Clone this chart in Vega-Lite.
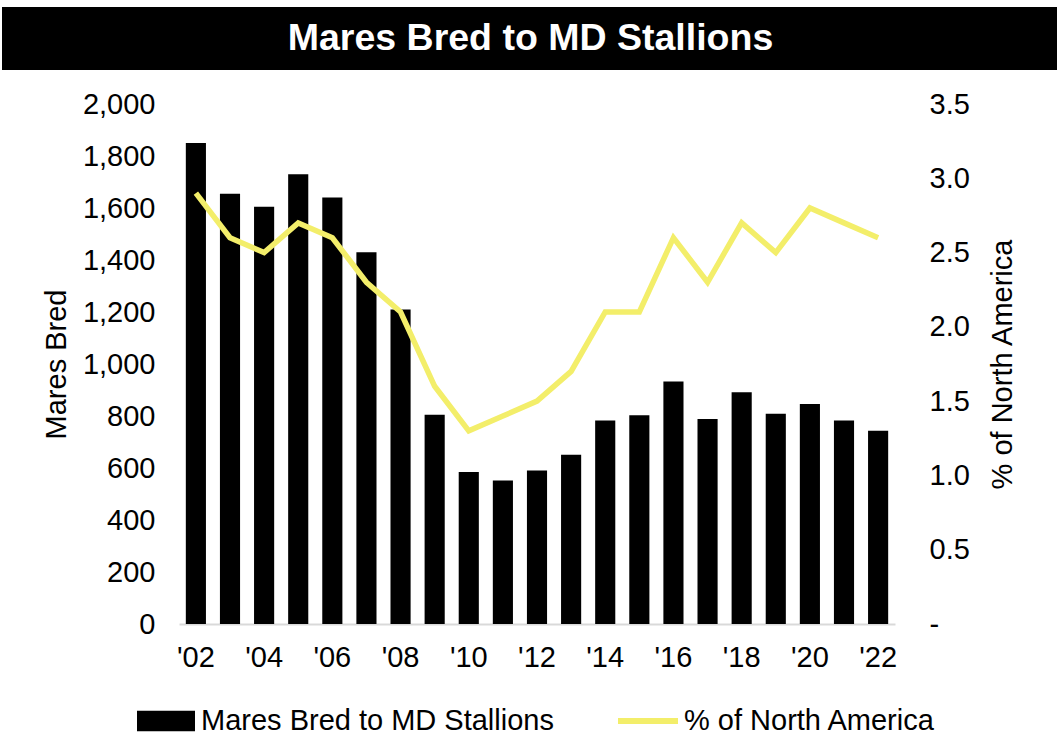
{
  "$schema": "https://vega.github.io/schema/vega-lite/v6.json",
  "padding": {"left": 2, "top": 7, "right": 0, "bottom": 0},
  "background": "white",
  "config": {"font": "Liberation Sans", "view": {"stroke": null}},
  "spacing": 20,
  "bounds": "full",
  "vconcat": [
    {
      "width": 1055,
      "height": 63,
      "view": {"fill": "black", "stroke": null},
      "data": {"values": [{"t": "Mares Bred to MD Stallions"}]},
      "mark": {"type": "text", "color": "white", "fontSize": 37.5, "fontWeight": "bold", "font": "Liberation Sans", "dx": 1},
      "encoding": {"text": {"field": "t", "type": "nominal"}}
    },
    {
      "width": 1055,
      "height": 520,
      "data": {"values": [
        {"yr": "'02", "mares": 1850, "pct": 2.9},
        {"yr": "'03", "mares": 1655, "pct": 2.6},
        {"yr": "'04", "mares": 1605, "pct": 2.5},
        {"yr": "'05", "mares": 1730, "pct": 2.7},
        {"yr": "'06", "mares": 1640, "pct": 2.6},
        {"yr": "'07", "mares": 1430, "pct": 2.3},
        {"yr": "'08", "mares": 1210, "pct": 2.1},
        {"yr": "'09", "mares": 805, "pct": 1.6},
        {"yr": "'10", "mares": 585, "pct": 1.3},
        {"yr": "'11", "mares": 552, "pct": 1.4},
        {"yr": "'12", "mares": 590, "pct": 1.5},
        {"yr": "'13", "mares": 651, "pct": 1.7},
        {"yr": "'14", "mares": 783, "pct": 2.1},
        {"yr": "'15", "mares": 803, "pct": 2.1},
        {"yr": "'16", "mares": 933, "pct": 2.6},
        {"yr": "'17", "mares": 788, "pct": 2.3},
        {"yr": "'18", "mares": 891, "pct": 2.7},
        {"yr": "'19", "mares": 809, "pct": 2.5},
        {"yr": "'20", "mares": 846, "pct": 2.8},
        {"yr": "'21", "mares": 783, "pct": 2.7},
        {"yr": "'22", "mares": 743, "pct": 2.6}
      ]},
      "layer": [
        {
          "mark": {"type": "bar"},
          "encoding": {
            "x": {
              "field": "yr", "type": "ordinal", "sort": null,
              "scale": {"range": [177, 893], "paddingInner": 0.41, "paddingOuter": 0.2},
              "axis": {
                "title": null,
                "labelAngle": 0, "ticks": false,
                "domainColor": "#d9d9d9", "domainWidth": 2,
                "labelFontSize": 29, "labelColor": "black", "labelPadding": 19,
                "values": ["'02", "'04", "'06", "'08", "'10", "'12", "'14", "'16", "'18", "'20", "'22"]
              }
            },
            "y": {
              "field": "mares", "type": "quantitative",
              "scale": {"domain": [0, 2000]},
              "axis": {
                "offset": -177,
                "title": "Mares Bred", "titleFontSize": 29, "titleFontWeight": "normal", "titleColor": "black",
                "titlePadding": 11, "labelPadding": 24, "ticks": false, "domain": false, "grid": false,
                "labelFontSize": 29, "labelColor": "black",
                "values": [0, 200, 400, 600, 800, 1000, 1200, 1400, 1600, 1800, 2000], "format": ",.0f"
              }
            },
            "fill": {
              "datum": "Mares Bred to MD Stallions", "type": "nominal",
              "scale": {"range": ["#000000"]},
              "legend": {
                "orient": "none", "legendX": 135, "legendY": 685, "title": null,
                "symbolType": "M-1,-0.35L1,-0.35L1,0.35L-1,0.35Z", "symbolSize": 3364,
                "symbolStrokeWidth": 0, "symbolOpacity": 1,
                "labelFontSize": 29, "labelColor": "black", "labelOffset": 6, "labelLimit": 600
              }
            }
          }
        },
        {
          "mark": {"type": "line", "strokeWidth": 5.5},
          "encoding": {
            "x": {"field": "yr", "type": "ordinal", "sort": null},
            "y": {
              "field": "pct", "type": "quantitative",
              "scale": {"domain": [0, 3.5]},
              "axis": {
                "orient": "right", "offset": -162,
                "title": "% of North America", "titleFontSize": 29, "titleFontWeight": "normal", "titleColor": "black",
                "titleAngle": 270, "titleBaseline": "top", "titlePadding": 19, "labelPadding": 34, "ticks": false, "domain": false, "grid": false,
                "labelFontSize": 29, "labelColor": "black",
                "values": [0, 0.5, 1, 1.5, 2, 2.5, 3, 3.5],
                "labelExpr": "datum.value == 0 ? '-' : format(datum.value, '.1f')"
              }
            },
            "stroke": {
              "datum": "% of North America", "type": "nominal",
              "scale": {"range": ["#F3EE6A"]},
              "legend": {
                "orient": "none", "legendX": 613, "legendY": 681, "title": null,
                "symbolType": "stroke", "symbolSize": 3600, "symbolStrokeWidth": 6,
                "labelFontSize": 29, "labelColor": "black", "labelOffset": 3, "labelLimit": 600
              }
            }
          }
        }
      ],
      "resolve": {"scale": {"y": "independent"}}
    }
  ]
}
